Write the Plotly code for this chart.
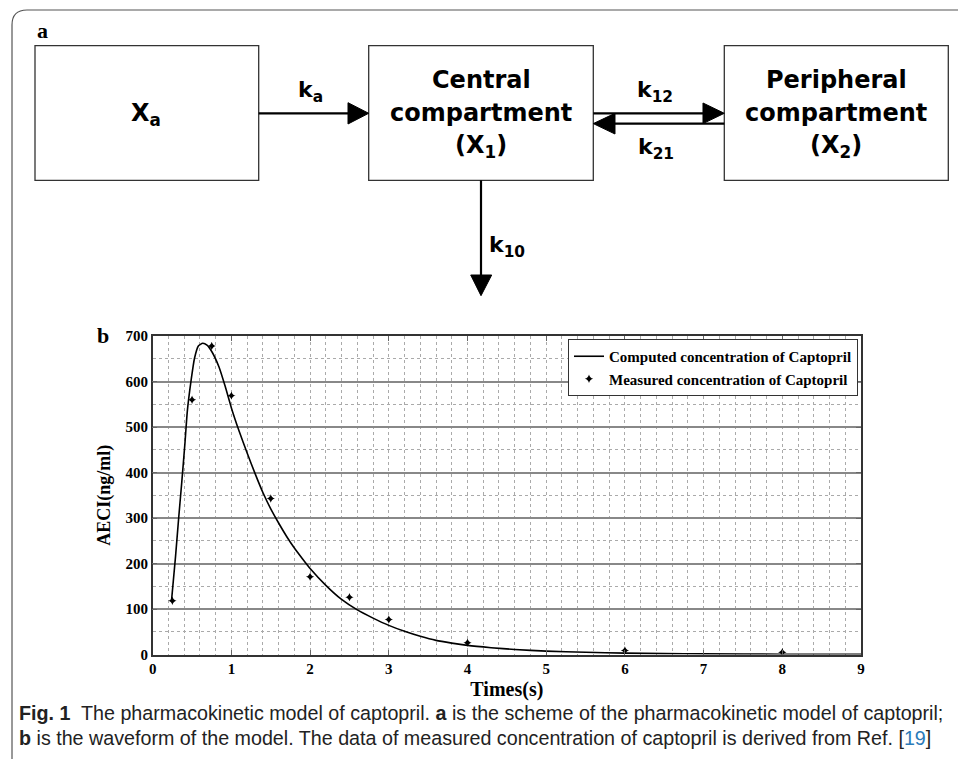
import plotly.graph_objects as go

W, H = 958, 759

# ---------------- data ----------------
t_computed = [0.24, 0.29, 0.33, 0.37, 0.41, 0.44, 0.49, 0.53, 0.58, 0.635, 0.69, 0.75,
              0.84, 0.92, 1.0, 1.1, 1.2, 1.3, 1.4, 1.5, 1.6, 1.7, 1.8, 1.9, 2.0, 2.2,
              2.4, 2.6, 2.8, 3.0, 3.2, 3.4, 3.6, 3.8, 4.0, 4.3, 4.6, 5.0, 5.5, 6.0,
              6.5, 7.0, 8.0, 9.0]
c_computed = [120, 215, 300, 380, 465, 535, 605, 650, 678, 684, 680, 666,
              633, 590, 542, 490, 443, 398, 356, 320, 289, 260, 234, 211, 189, 152,
              121, 98, 80, 64, 51, 40, 31, 25, 20, 15, 11, 7.5, 5, 3,
              2, 1.3, 0.6, 0.3]

t_measured = [0.25, 0.5, 0.75, 1.0, 1.5, 2.0, 2.5, 3.0, 4.0, 6.0, 8.0]
c_measured = [118, 560, 678, 569, 343, 171, 126, 77, 26, 9, 5]

x_ticks = [0, 1, 2, 3, 4, 5, 6, 7, 8, 9]
y_ticks = [0, 100, 200, 300, 400, 500, 600, 700]

series_names = ["Computed concentration of Captopril", "Measured concentration of Captopril"]


def px(x):
    return x / W


def py(y):
    return 1 - y / H


fig = go.Figure()
fig.add_trace(go.Scatter(x=t_computed, y=c_computed, mode="lines", name=series_names[0],
                         line=dict(color="black", width=1.6, shape="spline", smoothing=0.5)))
fig.add_trace(go.Scatter(x=t_measured, y=c_measured, mode="markers", name=series_names[1],
                         marker=dict(color="black", symbol="star-diamond", size=6)))

serif = "Liberation Serif, Times New Roman, serif"
sans = "DejaVu Sans, sans-serif"

shapes = []
line_col = "#333333"


def rect(x0, y0, x1, y1):
    shapes.append(dict(type="rect", xref="paper", yref="paper", x0=px(x0), x1=px(x1),
                       y0=py(y1), y1=py(y0), line=dict(color=line_col, width=1.3),
                       fillcolor="rgba(0,0,0,0)", layer="above"))


def seg(x0, y0, x1, y1, w=2.2, color="black"):
    shapes.append(dict(type="line", xref="paper", yref="paper", x0=px(x0), x1=px(x1),
                       y0=py(y0), y1=py(y1), line=dict(color=color, width=w), layer="above"))


def poly(pts, fill="black"):
    d = "M " + " L ".join(f"{px(a):.5f},{py(b):.5f}" for a, b in pts) + " Z"
    shapes.append(dict(type="path", xref="paper", yref="paper", path=d,
                       fillcolor=fill, line=dict(color=fill, width=1), layer="above"))


# frame with rounded top-left corner
frame = (f"M {px(12):.5f},{py(759):.5f} L {px(12):.5f},{py(25):.5f} "
         f"Q {px(12):.5f},{py(10):.5f} {px(27):.5f},{py(10):.5f} L {px(958):.5f},{py(10):.5f}")
shapes.append(dict(type="path", xref="paper", yref="paper", path=frame,
                   line=dict(color="#555555", width=1.2)))

# boxes
rect(35, 45.7, 258.7, 180.3)
rect(368.7, 45.7, 593.3, 180.3)
rect(724.3, 45.7, 948.3, 180.3)

# ka arrow
seg(258.7, 113.3, 350, 113.3)
poly([(348, 102.7), (368.7, 113.3), (348, 124)])
# k12 arrow
seg(593.3, 113.3, 705, 113.3)
poly([(703, 103), (724.3, 113.3), (703, 123.6)])
# k21 arrow
seg(613, 123.6, 724.3, 123.6)
poly([(615, 113.3), (593.3, 123.6), (615, 134)])
# k10 arrow
seg(481, 180.3, 481, 277)
poly([(470.7, 275), (491.7, 275), (481, 295.7)])

annotations = []


def txt(x, y, s, size, family=sans, bold=True, color="black", xanchor="center", yanchor="middle"):
    annotations.append(dict(x=px(x), y=py(y), xref="paper", yref="paper", text=s,
                            showarrow=False, xanchor=xanchor, yanchor=yanchor,
                            font=dict(family=family, size=size, color=color,
                                      weight="bold" if bold else "normal")))


txt(42.7, 31, "a", 22, family=serif)
txt(146, 115, "X<sub>a</sub>", 24)
txt(481, 80, "Central", 24)
txt(481, 113, "compartment", 24)
txt(481, 146, "(X<sub>1</sub>)", 24)
txt(836, 80, "Peripheral", 24)
txt(836, 113, "compartment", 24)
txt(836, 146, "(X<sub>2</sub>)", 24)
txt(310, 91, "k<sub>a</sub>", 22)
txt(655, 91, "k<sub>12</sub>", 22)
txt(656, 148, "k<sub>21</sub>", 22)
txt(487, 247, "k<sub>10</sub>", 22, xanchor="left")

txt(103, 335, "b", 22, family=serif)

cap = "Liberation Sans, Arial, sans-serif"
txt(17, 713, "<b>Fig. 1</b>  The pharmacokinetic model of captopril. <b>a</b> is the scheme of the "
             "pharmacokinetic model of captopril;", 19.7, family=cap, bold=False, color="#222222",
    xanchor="left")
txt(17, 738, "<b>b</b> is the waveform of the model. The data of measured concentration of captopril "
             "is derived from Ref. [<span style='color:#2b7bb9'>19</span>]", 19.7, family=cap,
    bold=False, color="#222222", xanchor="left")

fig.update_layout(
    width=W, height=H, autosize=False,
    margin=dict(l=0, r=0, t=0, b=0, pad=0),
    paper_bgcolor="white", plot_bgcolor="white",
    shapes=shapes, annotations=annotations,
    showlegend=True,
    legend=dict(x=px(858), y=py(339), xanchor="right", yanchor="top",
                bgcolor="white", bordercolor="#333333", borderwidth=1,
                font=dict(family=serif, size=15, color="black", weight="bold"),
                tracegroupgap=0, itemwidth=30),
    xaxis=dict(domain=[px(152.7), px(861)], range=[0, 9], tickvals=x_ticks,
               ticktext=[str(v) for v in x_ticks], automargin=False,
               showgrid=True, gridcolor="#aaaaaa", griddash="dot", gridwidth=1,
               minor=dict(dtick=0.2, tick0=0, showgrid=True, gridcolor="#aaaaaa",
                          griddash="dot", gridwidth=1),
               showline=True, linecolor="#333333", linewidth=1.5, mirror="ticks",
               ticks="inside", ticklen=5, tickcolor="#666666",
               zeroline=False,
               tickfont=dict(family=serif, size=15, color="black", weight="bold"),
               title=dict(text="Times(s)", standoff=6,
                          font=dict(family=serif, size=20, color="black", weight="bold"))),
    yaxis=dict(domain=[py(654.5), py(336)], range=[0, 700], tickvals=y_ticks,
               ticktext=[str(v) for v in y_ticks], automargin=False,
               showgrid=True, gridcolor="#888888", gridwidth=1.5,
               minor=dict(dtick=50, tick0=0, showgrid=True, gridcolor="#aaaaaa",
                          griddash="dot", gridwidth=1),
               showline=True, linecolor="#333333", linewidth=1.5, mirror="ticks",
               ticks="inside", ticklen=5, tickcolor="#666666",
               zeroline=False,
               tickfont=dict(family=serif, size=15, color="black", weight="bold"),
               title=dict(text="AECI(ng/ml)", standoff=10,
                          font=dict(family=serif, size=18, color="black", weight="bold"))),
)

fig.write_html("out.html", config={"displayModeBar": False},
               post_script="document.body.style.margin='0';")
